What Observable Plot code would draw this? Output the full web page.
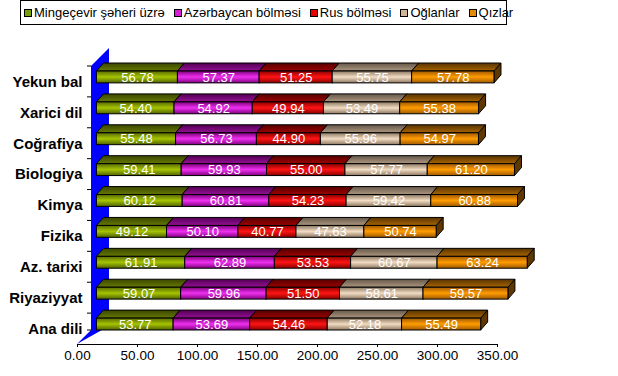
<!DOCTYPE html>
<html><head><meta charset="utf-8">
<script src="https://cdn.jsdelivr.net/npm/d3@7"></script>
<script src="https://cdn.jsdelivr.net/npm/@observablehq/plot@0.6"></script>
<style>
html,body{margin:0;padding:0;background:#fff;}
#wrap{position:relative;width:618px;height:376px;overflow:hidden;font-family:Arial,"Liberation Sans",sans-serif;}
#legendRow{height:27px;position:relative;}
#legend{position:absolute;left:20px;top:0;width:482px;height:23px;border:1px solid #000;display:flex;align-items:center;font-size:13px;color:#000;box-sizing:content-box;padding-left:3px;gap:9px;}
.item{display:flex;align-items:center;white-space:nowrap;}
.sw{width:6px;height:6px;border:1px solid #000;margin-right:2px;}
#axis{position:absolute;left:0;top:340px;}
#bars svg text{font-family:Arial,"Liberation Sans",sans-serif;}
</style>
</head><body>
<div id="wrap">
  <div id="legendRow"><div id="legend"></div></div>
  <div id="bars"></div>
  <div id="axis"></div>
</div>
<script>
const categories = ["Yekun bal","Xarici dil","Coğrafiya","Biologiya","Kimya","Fizika","Az. tarixi","Riyaziyyat","Ana dili"];
const seriesNames = ["Mingeçevir şəheri üzrə","Azərbaycan bölməsi","Rus bölməsi","Oğlanlar","Qızlar"];
const mingecevir = [56.78,54.40,55.48,59.41,60.12,49.12,61.91,59.07,53.77];
const azerbaycan = [57.37,54.92,56.73,59.93,60.81,50.10,62.89,59.96,53.69];
const rus        = [51.25,49.94,44.90,55.00,54.23,40.77,53.53,51.50,54.46];
const oglanlar   = [55.75,53.49,55.96,57.77,59.42,47.63,60.67,58.61,52.18];
const qizlar     = [57.78,55.38,54.97,61.20,60.88,50.74,63.24,59.57,55.49];
const xTicks = [0,50,100,150,200,250,300,350];

const seriesValues = [mingecevir, azerbaycan, rus, oglanlar, qizlar];
// colours: front gradient (edge, centre, edge), top face (back, front), side face, legend swatch
const frontStops = [["#566a00","#a6c400","#4f6200"],["#7c007c","#f030f0","#800080"],["#8c0000","#ff1414","#8a0000"],["#8a7660","#f2dcc2","#8e7862"],["#a05800","#ff9c00","#a05a00"]];
const topStops = [["#3a4600","#667a00"],["#520052","#961096"],["#520000","#a00000"],["#65574a","#ad977f"],["#573300","#a86400"]];
const sideColors = ["#3e4c00","#5a005a","#5c0000","#6a5a4b","#5e3800"];
const swatchColors = ["#78a000","#d81ed8","#e40000","#d2b595","#e48a00"];

const rows = categories.flatMap((c, i) => seriesNames.map((s, j) => ({cat: c, series: s, si: j, value: seriesValues[j][i]})));

// legend
const legend = document.getElementById("legend");
seriesNames.forEach((s, j) => {
  const it = document.createElement("div"); it.className = "item";
  const sw = document.createElement("div"); sw.className = "sw"; sw.style.background = swatchColors[j];
  const tx = document.createElement("span"); tx.textContent = s;
  it.appendChild(sw); it.appendChild(tx); legend.appendChild(it);
});

const DX = 7, DY = 8;      // 3-D depth of the bars (px)
const INSET_TOP = 5, INSET_BOTTOM = 14;

function bw(y) { return y.bandwidth ? y.bandwidth() : 30.9; }

function wallMark(index, scales) {
  const x = scales.x || scales.scales.x, y = scales.y || scales.scales.y;
  const g = d3.create("svg:g");
  const defs = g.append("defs");
  frontStops.forEach((st, j) => {
    const lg = defs.append("linearGradient").attr("id", "front" + j).attr("x1", 0).attr("y1", 0).attr("x2", 0).attr("y2", 1);
    lg.append("stop").attr("offset", "0%").attr("stop-color", st[0]);
    lg.append("stop").attr("offset", "50%").attr("stop-color", st[1]);
    lg.append("stop").attr("offset", "100%").attr("stop-color", st[2]);
  });
  topStops.forEach((st, j) => {
    const lg = defs.append("linearGradient").attr("id", "top" + j).attr("x1", 0).attr("y1", 0).attr("x2", 0).attr("y2", 1);
    lg.append("stop").attr("offset", "0%").attr("stop-color", st[0]);
    lg.append("stop").attr("offset", "100%").attr("stop-color", st[1]);
  });
  const x0 = x(0);
  const fx = x0 - 5.5, bx = x0 + 12.5;
  const yTop = y(categories[0]);
  const yBot = y(categories[categories.length - 1]) + bw(y);
  g.append("path")
    .attr("d", `M${fx},${yTop}L${bx},${yTop - 18}L${bx},${yBot - 18}L${fx - 14},${yBot}L${fx},${yBot - 14}Z`)
    .attr("fill", "#0000ff");
  const tickYs = categories.map(c => y(c)).concat([yBot - 14]);
  tickYs.forEach(t => g.append("line").attr("x1", fx - 4).attr("x2", fx).attr("y1", t).attr("y2", t).attr("stroke", "#000"));
  return g.node();
}

function facesMark(index, scales) {
  const x = scales.x || scales.scales.x, y = scales.y || scales.scales.y;
  const g = d3.create("svg:g").attr("stroke", "#000").attr("stroke-width", 1).attr("stroke-linejoin", "round");
  categories.forEach((c, i) => {
    const top = y(c) + INSET_TOP, bot = y(c) + bw(y) - INSET_BOTTOM;
    let acc = 0;
    seriesValues.forEach((arr, j) => {
      const x1 = x(acc), x2 = x(acc + arr[i]);
      acc += arr[i];
      g.append("path").attr("d", `M${x2},${top}L${x2 + DX},${top - DY}L${x2 + DX},${bot - DY}L${x2},${bot}Z`).attr("fill", sideColors[j]);
      g.append("path").attr("d", `M${x1},${top}L${x1 + DX},${top - DY}L${x2 + DX},${top - DY}L${x2},${top}Z`).attr("fill", `url(#top${j})`);
    });
  });
  return g.node();
}

const barsPlot = Plot.plot({
  width: 618, height: 349,
  marginLeft: 85, marginRight: 0, marginTop: 0, marginBottom: 0,
  style: {fontSize: "15px", fontWeight: "bold", fontFamily: "Arial, 'Liberation Sans', sans-serif", color: "#000", background: "transparent"},
  x: {domain: [0, 350], range: [96.5, 96.5 + 1.425 * 350], axis: null},
  y: {domain: categories, range: [39, 317], padding: 0, round: false, tickSize: 0, tickPadding: 3, label: null},
  color: {type: "identity"},
  marks: [
    wallMark,
    facesMark,
    Plot.barX(rows, Plot.stackX({x: "value", y: "cat", fill: d => `url(#front${d.si})`, stroke: "#000", strokeWidth: 1, insetTop: INSET_TOP, insetBottom: INSET_BOTTOM})),
    Plot.text(rows, Plot.stackX({x: "value", y: "cat", text: d => d.value.toFixed(2), fill: "#ffffff", fontSize: 13, fontWeight: "normal", dy: -4.5}))
  ]
});
document.getElementById("bars").appendChild(barsPlot);

const axisPlot = Plot.plot({
  width: 618, height: 36,
  marginLeft: 0, marginRight: 0, marginTop: 0, marginBottom: 32,
  style: {fontSize: "13.5px", fontFamily: "Arial, 'Liberation Sans', sans-serif", color: "#000", background: "transparent"},
  x: {domain: [0, 350], range: [77, 497], ticks: xTicks, tickFormat: d3.format(".2f"), tickSize: 3, tickPadding: 3, label: null},
  y: {domain: [0, 1], range: [4, 36], axis: null},
  marks: [Plot.ruleY([0], {x1: 0, x2: 350, stroke: "#000"})]
});
document.getElementById("axis").appendChild(axisPlot);
</script>
</body></html>
